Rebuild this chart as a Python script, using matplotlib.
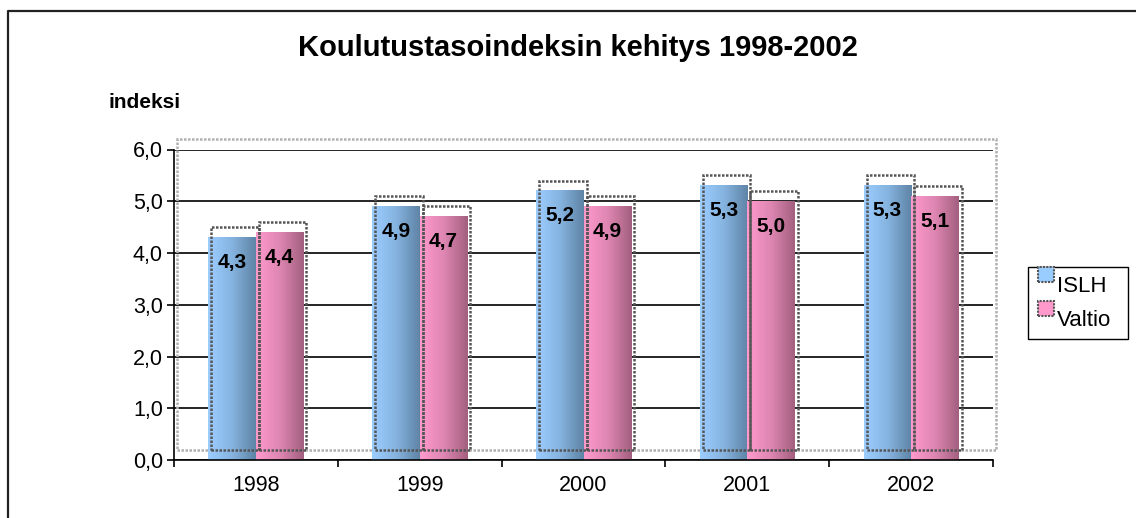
import numpy as np
import matplotlib
matplotlib.use("Agg")
import matplotlib.pyplot as plt
from matplotlib.patches import Rectangle
from matplotlib.lines import Line2D
from matplotlib.colors import LinearSegmentedColormap
from matplotlib.transforms import ScaledTranslation

years = ["1998", "1999", "2000", "2001", "2002"]
islh = [4.3, 4.9, 5.2, 5.3, 5.3]
valtio = [4.4, 4.7, 4.9, 5.0, 5.1]
series_names = ["ISLH", "Valtio"]
yticks = [0, 1, 2, 3, 4, 5, 6]

plt.rcParams['font.family'] = ['Liberation Sans', 'DejaVu Sans']

W, H = 1136, 518
blue_cmap = LinearSegmentedColormap.from_list("b", ["#9ccdff", "#86b4e0", "#5f84a6"])
pink_cmap = LinearSegmentedColormap.from_list("p", ["#ff99cc", "#de86b2", "#a3607f"])


def fx(px):
    return px / W


def fy(py):
    return 1 - py / H


fig = plt.figure(figsize=(W / 100, H / 100), dpi=100)
# chart area border (only top and left edges are visible)
fig.lines.append(Line2D([fx(8), fx(8), 1], [0, fy(11), fy(11)],
                        transform=fig.transFigure, color="#222222", linewidth=1.6))

ax = fig.add_axes([fx(174), fy(460), 819 / W, 310.5 / H])
ax.set_xlim(-0.5, len(years) - 0.5)
ax.set_ylim(0, 6)

bw = 0.29
grad = np.linspace(0, 1, 64).reshape(1, -1)
shift = ScaledTranslation(3 / 100, 0, fig.dpi_scale_trans)

for i in range(len(years)):
    for vals, cmap, off in ((islh, blue_cmap, -bw / 2), (valtio, pink_cmap, bw / 2)):
        x0 = i + off - bw / 2
        v = vals[i]
        ax.imshow(grad, cmap=cmap, aspect="auto", extent=(x0, x0 + bw, 0, v),
                  zorder=2, interpolation="bilinear")
        # dotted shadow outline, raised and shifted
        ax.add_patch(Rectangle((x0, 0.2), bw, v, fill=False, edgecolor="#555555",
                               linestyle=(0, (1, 0.6)), linewidth=1.8, zorder=3,
                               transform=ax.transData + shift, clip_on=False))
        ax.annotate(f"{v:.1f}".replace(".", ","), (i + off, v), xytext=(0, -25),
                    textcoords="offset pixels", ha="center", va="center",
                    fontsize=15, fontweight="bold", zorder=4)

# plot area shadow border
ax.add_patch(Rectangle((-0.5, 0.2), len(years), 6, fill=False, edgecolor="#b0b0b0",
                       linestyle=(0, (1, 0.6)), linewidth=1.8, zorder=1,
                       transform=ax.transData + shift, clip_on=False))

ax.set_yticks(yticks)
ax.set_yticklabels([f"{t:.1f}".replace(".", ",") for t in yticks], fontsize=15.5)
ax.yaxis.grid(True, color="black", linewidth=1.2, zorder=0)
ax.set_axisbelow(True)
ax.set_xticks(np.arange(len(years)))
ax.set_xticklabels(years, fontsize=15.5)
ax.set_xticks(np.arange(len(years) + 1) - 0.5, minor=True)
ax.tick_params(axis="x", which="major", length=0, pad=11)
ax.tick_params(axis="x", which="minor", length=5, width=1.2, direction="out")
ax.tick_params(axis="y", length=5, width=1.2, direction="out", pad=3)
for s in ("top", "right"):
    ax.spines[s].set_visible(False)
for s in ("left", "bottom"):
    ax.spines[s].set_linewidth(1.2)

fig.text(fx(578), fy(48), "Koulutustasoindeksin kehitys 1998-2002",
         ha="center", va="center", fontsize=21, fontweight="bold")
fig.text(fx(109), fy(103), "indeksi", ha="left", va="center",
         fontsize=15, fontweight="bold")

# legend drawn by hand to match the raised markers
fig.patches.append(Rectangle((fx(1028), fy(339)), 100 / W, 72 / H,
                             transform=fig.transFigure, fill=False,
                             edgecolor="black", linewidth=1.0))
for name, c, top, ty in zip(series_names, ("#99ccff", "#ff99cc"), (267, 301), (287, 320)):
    fig.patches.append(Rectangle((fx(1038), fy(top + 15)), 16 / W, 15 / H,
                                 transform=fig.transFigure, facecolor=c,
                                 edgecolor="#555555", linestyle=(0, (1, 0.6)),
                                 linewidth=1.5))
    fig.text(fx(1057), fy(ty), name, ha="left", va="center", fontsize=16)

fig.savefig("out.png", dpi=100)
